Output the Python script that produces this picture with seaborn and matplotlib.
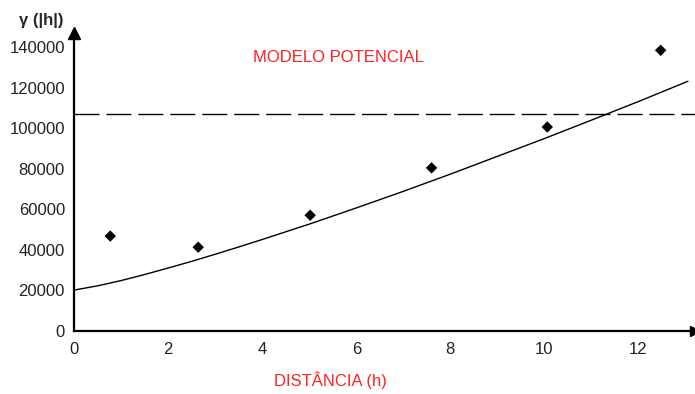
import matplotlib
matplotlib.use("Agg")
import matplotlib.pyplot as plt
import seaborn as sns
import pandas as pd

# experimental semivariogram points
dist = [0.77, 2.64, 5.02, 7.6, 10.06, 12.47]
gamma = [46700, 41200, 57000, 80400, 100600, 138500]

# power model curve
model_h = [0, 0.5, 1, 1.5, 2, 2.5, 3, 3.5, 4, 5, 6, 7, 8, 9, 10, 11, 12, 13.05]
model_g = [20000, 22100, 24700, 27700, 30900, 34200, 37700, 41300, 45000,
           52600, 60600, 68800, 77300, 86100, 94900, 104000, 113200, 123200]

sill = 107000

xticks = [0, 2, 4, 6, 8, 10, 12]
yticks = [0, 20000, 40000, 60000, 80000, 100000, 120000, 140000]

sns.set_style("white")
plt.rcParams['font.family'] = ['Liberation Sans', 'DejaVu Sans']

fig = plt.figure(figsize=(6.95, 3.94), dpi=100)
ax = fig.add_axes([0.1065, 0.161, 0.8935, 0.755])

pts = pd.DataFrame({'h': dist, 'g': gamma})
mod = pd.DataFrame({'h': model_h, 'g': model_g})

sns.lineplot(data=mod, x='h', y='g', color='black', linewidth=1.0, ax=ax)
sns.scatterplot(data=pts, x='h', y='g', marker='D', s=34, color='black',
                edgecolor='none', ax=ax, zorder=3)
ax.axhline(sill, color='black', linewidth=1.0, dashes=(18, 5))

ax.set_xlim(0, 13.2)
ax.set_ylim(0, 147000)
ax.set_xticks(xticks)
ax.set_yticks(yticks)
ax.set_xticklabels([str(t) for t in xticks])
ax.set_yticklabels([str(t) for t in yticks])
ax.tick_params(axis='both', direction='in', length=7, width=1.2,
               labelsize=12, colors='black')
ax.tick_params(axis='x', pad=8.5)
ax.tick_params(axis='y', pad=6.5)
for lab in ax.get_xticklabels() + ax.get_yticklabels():
    lab.set_color('#222222')

ax.set_xlabel('')
ax.set_ylabel('')
for s in ['top', 'right']:
    ax.spines[s].set_visible(False)
for s in ['left', 'bottom']:
    ax.spines[s].set_linewidth(1.6)
    ax.spines[s].set_color('black')

# axis arrows
ax.plot(1, 0, '>', color='black', markersize=7, transform=ax.get_yaxis_transform(), clip_on=False)
ax.plot(0, 1, '^', color='black', markersize=8, transform=ax.get_xaxis_transform(), clip_on=False)

fig.text(41 / 695, 1 - 20 / 394, 'γ (|h|)', fontsize=12, fontweight='bold',
         ha='center', va='center')
fig.text(338 / 695, 1 - 57 / 394, 'MODELO POTENCIAL', fontsize=12, color='#ff2020',
         ha='center', va='center')
fig.text(330 / 695, 1 - 380 / 394, 'DISTÂNCIA (h)', fontsize=12, color='#ff2020',
         ha='center', va='center')

fig.savefig('out.png', dpi=100)
